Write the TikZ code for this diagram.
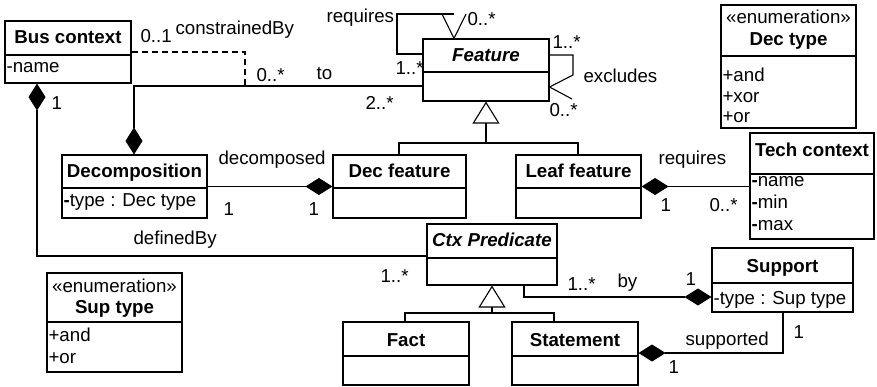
\documentclass[tikz,border=0pt]{standalone}
\usepackage{fontspec}
\setmainfont{Liberation Sans}
\usetikzlibrary{arrows.meta,fit}
\newcommand{\fsz}{\fontsize{18.7}{22}\selectfont}
\newcommand{\bh}{{\bfseries -}}
\tikzset{
  lbl/.style={font=\fsz, inner sep=0pt, anchor=base west},
  hdr/.style={font=\fsz\bfseries, inner sep=0pt, anchor=base},
  hdri/.style={font=\fsz\bfseries\itshape, inner sep=0pt, anchor=base},
  stereo/.style={font=\fsz, inner sep=0pt, anchor=base},
  comp/.style={-{Diamond[length=27pt,width=17pt]}},
  compr/.style={{Diamond[length=27pt,width=17pt]}-},
  gen/.style={{Triangle[open,length=22pt,width=27pt]}-},
}
\newcommand{\umlcls}[6]{%
  \node[draw,inner sep=0pt,fit={(#2,#3) (#4,#6)}] (#1) {};
  \draw (#1.west |- 0,#5) -- (#1.east |- 0,#5);}
\begin{document}
\begin{tikzpicture}[x=1pt,y=-1pt,line width=1.1pt]
\useasboundingbox (0,0) rectangle (877,387);
% classes
\umlcls{bus}{5}{21}{131}{55}{83}
\node[hdr] (busH) at (bus.north |- 0,44) {Bus context};
\node[lbl] (busA) at (6,73) {-name};

\umlcls{feat}{423}{39}{549}{72}{101}
\node[hdri] (featH) at (feat.north |- 0,62) {Feature};

\umlcls{dect}{721}{5}{856}{56}{128}
\node[stereo] (dectS) at (dect.north |- 0,24) {«enumeration»};
\node[hdr] (dectH) at (dect.north |- 0,46) {Dec type};
\node[lbl] (dectA1) at (722,82) {+and};
\node[lbl] (dectA2) at (722,103) {+xor};
\node[lbl] (dectA3) at (722,123) {+or};

\umlcls{tech}{750}{133}{874}{174}{239}
\node[hdr] (techH) at (tech.north |- 0,157) {Tech context};
\node[lbl] (techA1) at (751,187) {\bh name};
\node[lbl] (techA2) at (751,209) {\bh min};
\node[lbl] (techA3) at (751,231) {\bh max};

\umlcls{decomp}{62}{155}{207}{188}{218}
\node[hdr] (decompH) at (decomp.north |- 0,178) {Decomposition};
\node[lbl] (decompA) at (63,207) {\bh type : Dec type};

\umlcls{decf}{333}{155}{466}{188}{218}
\node[hdr] (decfH) at (decf.north |- 0,178) {Dec feature};

\umlcls{leaf}{516}{155}{641}{188}{218}
\node[hdr] (leafH) at (leaf.north |- 0,178) {Leaf feature};

\umlcls{ctx}{427}{224}{557}{258}{285}
\node[hdri] (ctxH) at (ctx.north |- 0,246) {Ctx Predicate};

\umlcls{supp}{712}{248}{853}{283}{312}
\node[hdr] (suppH) at (supp.north |- 0,272) {Support};
\node[lbl] (suppA) at (713,304) {-type : Sup type};

\umlcls{supt}{47}{273}{182}{322}{372}
\node[stereo] (suptS) at (supt.north |- 0,292) {«enumeration»};
\node[hdr] (suptH) at (supt.north |- 0,313) {Sup type};
\node[lbl] (suptA1) at (48,341) {+and};
\node[lbl] (suptA2) at (48,363) {+or};

\umlcls{fact}{343}{322}{469}{356}{385}
\node[hdr] (factH) at (fact.north |- 0,346) {Fact};

\umlcls{stmt}{512}{322}{638}{356}{385}
\node[hdr] (stmtH) at (stmt.north |- 0,346) {Statement};

% connectors
\coordinate (cbEnd) at (245,86);
\draw[dash pattern=on 6pt off 4pt] (bus.east |- 0,52) -| (cbEnd);
\draw[comp] (feat.west |- 0,86) -| (decomp.north -| 134,0);
% requires self loop
\draw (feat.west |- 0,54) -| (397,14) -- (454,14);
\draw (442,14) -- (feat.north -| 454,0) -- (466,14);
% excludes self loop
\draw (feat.east |- 0,55) -| (573,75) -- (feat.east |- 0,87) -- (572,99);
% generalization Feature
\coordinate (g1) at (feat.south |- 0,143);
\draw[gen] (feat.south) -- (g1);
\draw (decf.north -| 399,0) |- (g1) -| (leaf.north -| 578,0);
% decomposed
\draw[comp] (decomp.east) -- (decf.west);
% requires tech
\draw[compr] (leaf.east) -- (tech.west |- leaf.east);
% definedBy
\draw[compr] (bus.south -| 37,0) |- (ctx.west |- 0,256);
% generalization Ctx
\coordinate (g2) at (ctx.south |- 0,313);
\draw[gen] (ctx.south) -- (g2);
\draw (fact.north -| 405,0) |- (g2) -| (stmt.north -| 554,0);
% by
\draw[comp] (ctx.south -| 524,0) |- (supp.west |- 0,297);
% supported
\draw[comp] (supp.south -| 783,0) |- (stmt.east |- 0,353);

% labels
\node[lbl] (l1) at (140,43) {0..1};
\node[lbl] (l2) at (175,35) {constrainedBy};
\node[lbl] (l3) at (256,82) {0..*};
\node[lbl] (l4) at (316,80) {to};
\node[lbl] (l5) at (326,23) {requires};
\node[lbl] (l6) at (395,75) {1..*};
\node[lbl] (l7) at (365,110) {2..*};
\node[lbl] (l8) at (51,110) {1};
\node[lbl] (l9) at (467,26) {0..*};
\node[lbl] (l10) at (552,49) {1..*};
\node[lbl] (l11) at (583,83) {excludes};
\node[lbl] (l12) at (549,117) {0..*};
\node[lbl] (l13) at (218,165) {decomposed};
\node[lbl] (l14) at (223,215) {1};
\node[lbl] (l15) at (308,215) {1};
\node[lbl] (l16) at (133,244) {definedBy};
\node[lbl] (l17) at (658,165) {requires};
\node[lbl] (l18) at (660,212) {1};
\node[lbl] (l19) at (709,212) {0..*};
\node[lbl] (l20) at (380,282) {1..*};
\node[lbl] (l21) at (567,290) {1..*};
\node[lbl] (l22) at (617,287) {by};
\node[lbl] (l23) at (685,285) {1};
\node[lbl] (l24) at (685,345) {supported};
\node[lbl] (l25) at (793,338) {1};
\node[lbl] (l26) at (668,373) {1};
\end{tikzpicture}
\end{document}
